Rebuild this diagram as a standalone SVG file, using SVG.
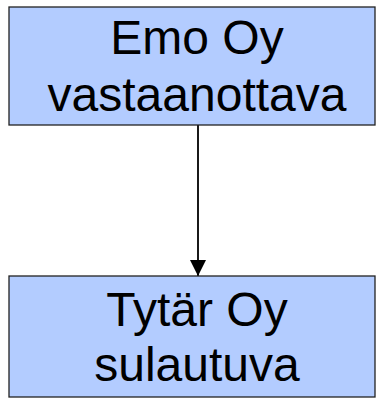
<svg xmlns="http://www.w3.org/2000/svg" width="380" height="398" viewBox="0 0 380 398">
<style>
.box{fill:#B3CCFF;stroke:#222;stroke-width:1.3}
.t{font-family:"Liberation Sans",Arial,sans-serif;font-size:48px;fill:#000;text-anchor:middle}
.c{stroke:#000;stroke-width:1.8;fill:none}
</style>
<defs>
<marker id="ah" markerUnits="userSpaceOnUse" markerWidth="16" markerHeight="16" refX="16" refY="8" orient="auto">
<path d="M0,0 L16,8 L0,16 Z" fill="#000"/>
</marker>
</defs>
<rect width="380" height="398" fill="#fff"/>
<g id="connectors">
<line class="c" x1="198" y1="125" x2="198" y2="276" marker-end="url(#ah)"/>
</g>
<g id="emo">
<rect class="box" x="9" y="7" width="366" height="118"/>
<text class="t" x="197" y="54">Emo Oy</text>
<text class="t" x="197" y="111">vastaanottava</text>
</g>
<g id="tytar">
<rect class="box" x="9" y="276" width="366" height="121"/>
<text class="t" x="197" y="326">Tytär Oy</text>
<text class="t" x="197" y="381">sulautuva</text>
</g>
</svg>
